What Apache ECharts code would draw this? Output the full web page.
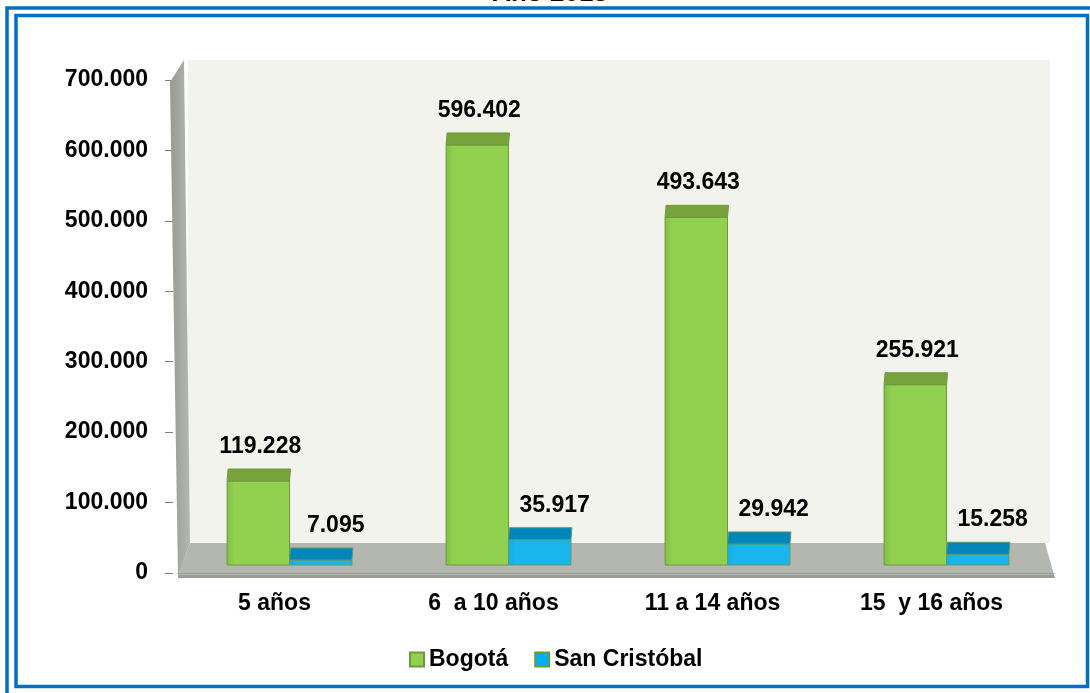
<!DOCTYPE html>
<html>
<head>
<meta charset="utf-8">
<script src="https://cdn.jsdelivr.net/npm/echarts@6/dist/echarts.min.js"></script>
<style>
  html, body { margin: 0; padding: 0; background: #fff; }
  #main { width: 1090px; height: 693px; }
</style>
</head>
<body>
<div id="main"></div>
<script>
var categories = ['5 años', '6  a 10 años', '11 a 14 años', '15  y 16 años'];
var bogota = [119228, 596402, 493643, 255921];
var sanCristobal = [7095, 35917, 29942, 15258];

var FONT = '"Liberation Sans", Arial, sans-serif';

// 596402 -> "596.402"
function fmt(v) {
  return String(v).replace(/\B(?=(\d{3})+(?!\d))/g, '.');
}

/**
 * barra con cara superior (look 3D de Excel)
 */
function bar3d(side, front, topColor, edge, labelDx) {
  return function (params, api) {
    var idx = api.value(0);
    var val = api.value(1);
    var base = api.coord([idx, 0]);
    var tip = api.coord([idx, val]);
    var band = api.size([1, 0])[0];
    var w = band * 0.285;
    var x = side === 0 ? base[0] - w + 2 : base[0] + 2;
    var y0 = base[1] - 8;
    var y1 = tip[1] - 8;
    var d = 12;
    return {
      type: 'group',
      children: [
        {
          type: 'rect',
          shape: { x: x, y: y1, width: w, height: y0 - y1 },
          style: {
            fill: new echarts.graphic.LinearGradient(0, 0, 1, 0, [
              { offset: 0, color: front[0] },
              { offset: 0.12, color: front[1] },
              { offset: 1, color: front[1] }
            ]),
            stroke: edge, lineWidth: 1
          }
        },
        {
          type: 'polygon',
          shape: { points: [[x, y1], [x + w, y1], [x + w + 1, y1 - d], [x + 1, y1 - d]] },
          style: { fill: topColor, stroke: edge, lineWidth: 1 }
        },
        {
          type: 'text',
          style: {
            text: fmt(val), x: x + w / 2 + labelDx, y: y1 - d - 11,
            align: 'center', verticalAlign: 'bottom',
            font: 'bold 23px ' + FONT, fill: '#000'
          }
        }
      ]
    };
  };
}

/**
 * pared izquierda, fondo y piso
 */
function renderWalls(params, api) {
  var cs = params.coordSys;
  var L = cs.x, R = cs.x + cs.width, T = cs.y, B = cs.y + cs.height;
  return {
    type: 'group',
    children: [
      {
        type: 'rect',
        shape: { x: L + 10, y: T - 20, width: R - L - 14, height: B - 30 - (T - 20) },
        style: { fill: '#f1f3ec' }
      },
      {
        type: 'polygon',
        shape: { points: [[L - 8, T + 2], [L + 6, T - 20], [L + 12, B - 30], [L, B + 3]] },
        style: {
          fill: new echarts.graphic.LinearGradient(0, 0, 1, 0, [
            { offset: 0, color: '#979a93' },
            { offset: 1, color: '#b5b8b1' }
          ])
        }
      },
      {
        type: 'polygon',
        shape: { points: [[L, B + 2], [R, B + 2], [R - 9, B - 30], [L + 12, B - 30]] },
        style: { fill: '#b4b7b0' }
      },
      {
        type: 'polygon',
        shape: { points: [[L, B + 2], [R, B + 2], [R + 1, B + 5], [L, B + 5]] },
        style: { fill: '#9a9d96' }
      }
    ]
  };
}

var chart = echarts.init(document.getElementById('main'), null, { renderer: 'canvas' });

var option = {
  animation: false,
  backgroundColor: '#fff',
  grid: { left: 178, right: 36, top: 80, bottom: 120 },
  legend: {
    data: ['Bogotá', 'San Cristóbal'],
    left: 404,
    top: 643,
    icon: 'rect',
    itemWidth: 14,
    itemHeight: 14,
    itemGap: 26,
    textStyle: { fontFamily: FONT, fontSize: 23, fontWeight: 'bold', color: '#000' }
  },
  xAxis: {
    type: 'category',
    data: categories,
    axisLine: { lineStyle: { color: '#9a9a9a', width: 1 } },
    axisTick: { length: 5, lineStyle: { color: '#9a9a9a' } },
    axisLabel: {
      margin: 19,
      padding: [0, 26, 0, 0],
      fontFamily: FONT, fontSize: 23, fontWeight: 'bold', color: '#000'
    },
    z: 5
  },
  yAxis: {
    type: 'value',
    min: 0,
    max: 700000,
    interval: 100000,
    offset: 5,
    splitLine: { show: false },
    axisLine: { show: false },
    axisTick: { show: true, length: 8, lineStyle: { color: '#7f7f7f' } },
    axisLabel: {
      margin: 25,
      formatter: fmt,
      fontFamily: FONT, fontSize: 23, fontWeight: 'bold', color: '#000'
    }
  },
  series: [
    {
      type: 'custom',
      name: 'walls',
      z: 1,
      silent: true,
      renderItem: renderWalls,
      data: [[0, 0]]
    },
    {
      type: 'custom',
      name: 'Bogotá',
      z: 3,
      itemStyle: { color: '#92d050', borderColor: '#6e9a3c', borderWidth: 1 },
      renderItem: bar3d(0, ['#82bd45', '#92d050'], '#77a23c', '#6e9a3c', 2),
      encode: { x: 0, y: 1 },
      data: bogota.map(function (v, i) { return [i, v]; })
    },
    {
      type: 'custom',
      name: 'San Cristóbal',
      z: 4,
      itemStyle: { color: '#00b0f0', borderColor: '#6e9a3c', borderWidth: 1 },
      renderItem: bar3d(1, ['#12aee3', '#19b6ee'], '#0086b8', '#5f9a6a', 15),
      encode: { x: 0, y: 1 },
      data: sanCristobal.map(function (v, i) { return [i, v]; })
    }
  ],
  graphic: [
    {
      type: 'text',
      z: 100,
      style: { text: 'Año 2013', x: 550, y: -6, align: 'center', verticalAlign: 'middle', font: 'bold 26px ' + FONT, fill: '#000' }
    },
    {
      type: 'rect',
      z: 100,
      shape: { x: 7, y: 8, width: 1100, height: 700 },
      style: { fill: 'none', stroke: '#0070c0', lineWidth: 3.5 }
    },
    {
      type: 'rect',
      z: 100,
      shape: { x: 16, y: 15.5, width: 1071.5, height: 671 },
      style: { fill: 'none', stroke: '#0070c0', lineWidth: 3.5 }
    }
  ]
};

chart.setOption(option);
</script>
</body>
</html>
